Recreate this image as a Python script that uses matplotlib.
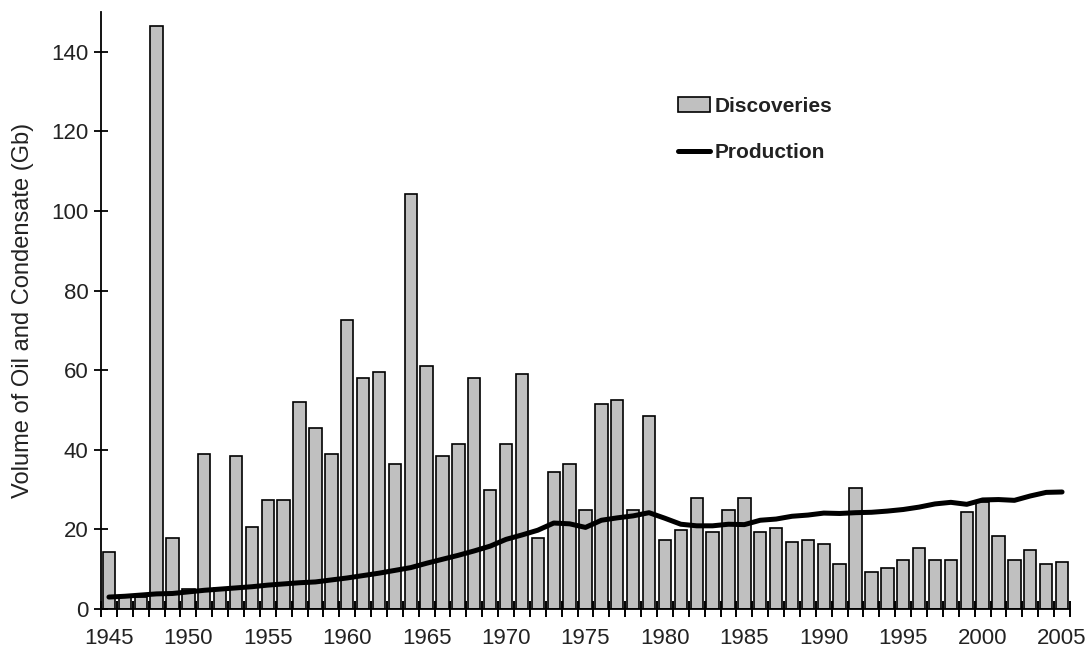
import matplotlib
matplotlib.use("Agg")
import matplotlib.pyplot as plt
import numpy as np

years = list(range(1945, 2006))
discoveries = [14.2, 3.1, 3.0, 146.6, 17.8, 5.0, 38.9, 5.4, 38.4, 20.7,
               27.3, 27.3, 52.0, 45.4, 38.9, 72.5, 58.0, 59.5, 36.4, 104.2,
               61.0, 38.4, 41.4, 58.0, 29.8, 41.4, 59.0, 17.8, 34.3, 36.4,
               24.8, 51.4, 52.4, 24.8, 48.4, 17.3, 19.8, 27.8, 19.3, 24.8,
               27.8, 19.3, 20.3, 16.8, 17.3, 16.3, 11.2, 30.3, 9.2, 10.2,
               12.2, 15.3, 12.2, 12.2, 24.3, 27.0, 18.3, 12.2, 14.7, 11.2,
               11.7]
production = [3.0, 3.2, 3.5, 3.8, 3.9, 4.3, 4.7, 5.0, 5.3, 5.6,
              6.0, 6.3, 6.6, 6.8, 7.3, 7.8, 8.4, 9.0, 9.7, 10.4,
              11.5, 12.5, 13.5, 14.6, 15.8, 17.5, 18.6, 19.8, 21.6, 21.4,
              20.5, 22.3, 22.9, 23.4, 24.2, 22.8, 21.3, 20.9, 20.9, 21.3,
              21.2, 22.3, 22.6, 23.3, 23.6, 24.1, 24.0, 24.2, 24.3, 24.6,
              25.0, 25.6, 26.4, 26.8, 26.3, 27.4, 27.5, 27.3, 28.4, 29.3,
              29.4]
label_years = [1945, 1950, 1955, 1960, 1965, 1970, 1975, 1980, 1985, 1990, 1995, 2000, 2005]
y_ticks = [0, 20, 40, 60, 80, 100, 120, 140]

plt.rcParams['font.family'] = ['Liberation Sans', 'DejaVu Sans']

fig = plt.figure(figsize=(10.9, 6.51), dpi=100)
ax = fig.add_axes([101/1090, 42/651, (1070-101)/1090, (609-12)/651])
ax.set_axisbelow(False)

bars = ax.bar(years, discoveries, width=0.78, color='#c0c0c0', edgecolor='black',
              linewidth=1.2, label='Discoveries', zorder=2)
line, = ax.plot(years, production, color='black', linewidth=3.6, label='Production',
                zorder=3, solid_capstyle='round', solid_joinstyle='round')

ax.set_xlim(years[0] - 0.5, years[-1] + 0.5)
ax.set_ylim(0, 150)

for s in ['top', 'right']:
    ax.spines[s].set_visible(False)
for s in ['left', 'bottom']:
    ax.spines[s].set_linewidth(1.3)
    ax.spines[s].set_zorder(4)

boundaries = np.arange(years[0] - 0.5, years[-1] + 1.0, 1.0)
ax.set_xticks(boundaries)
ax.set_xticklabels([])
ax.tick_params(axis='x', which='major', direction='inout', length=11, width=1.4)
ax.set_xticks(label_years, minor=True)
ax.set_xticklabels([str(y) for y in label_years], minor=True)
ax.tick_params(axis='x', which='minor', length=0, pad=14, labelsize=16, labelcolor='#222222')

ax.set_yticks(y_ticks)
ax.tick_params(axis='y', direction='inout', length=10, width=1.3, pad=4,
               labelsize=16, labelcolor='#222222')

ax.set_ylabel('Volume of Oil and Condensate (Gb)', fontsize=17, color='#222222')
ax.yaxis.set_label_coords(-67/969, 0.5)

leg = ax.legend(handles=[bars, line], labels=['Discoveries', 'Production'],
                loc='upper left', bbox_to_anchor=(577/969, (609-97)/597),
                frameon=False, fontsize=15, handlelength=1.55, handletextpad=0.2,
                labelspacing=1.3, borderpad=0, borderaxespad=0)
for t in leg.get_texts():
    t.set_fontweight('bold')
    t.set_color('#222222')

fig.savefig('out.png', dpi=100)
